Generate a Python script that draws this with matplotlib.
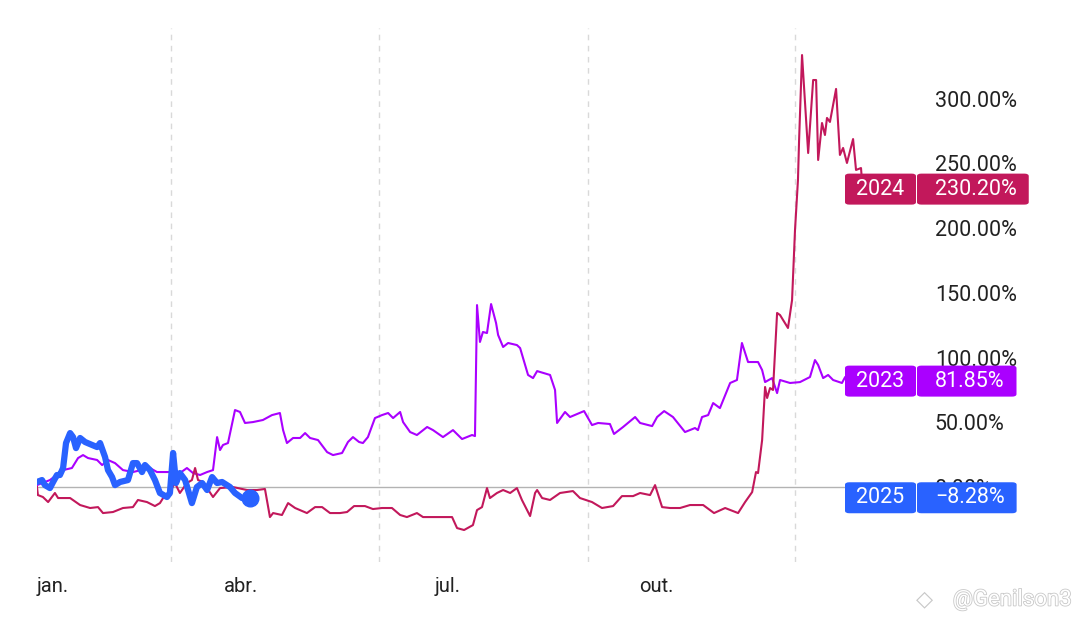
import matplotlib
matplotlib.use("Agg")
import matplotlib.pyplot as plt
import matplotlib.patheffects as pe
from matplotlib.patches import FancyBboxPatch

plt.rcParams['font.family'] = ['Roboto', 'DejaVu Sans']

# dia do ano (0 = 1 jan) e retorno acumulado em %
dias_2023 = [0, 5.7, 11.5, 15.4, 18.1, 20.3, 22.5, 26.5, 28.7, 31.3, 34.4, 37.9, 42.3, 49.8, 52.9,
             58.6, 63.0, 66.1, 68.8, 71.9, 75.0, 77.6, 79.4, 80.7, 82.0, 84.2, 87.3, 89.5, 91.7,
             95.2, 99.6, 103.6, 107.1, 108.5, 110.2, 112.9, 116.0, 118.2, 120.4, 123.9, 127.9,
             130.5, 134.5, 137.1, 139.3, 142.0, 143.7, 145.9, 149.0, 152.1, 154.8, 157.0, 160.1,
             161.4, 164.5, 167.5, 172.0, 174.6, 179.0, 183.4, 187.4, 191.8, 193.1, 194.0, 195.3,
             196.6, 198.4, 200.2, 202.4, 203.3, 205.5, 207.7, 211.6, 213.0, 216.5, 218.7, 220.5,
             226.2, 228.4, 229.3, 232.8, 235.0, 241.2, 244.7, 247.4, 252.6, 254.4, 258.4, 263.7,
             265.9, 271.2, 273.4, 276.5, 280.4, 285.7, 290.1, 291.4, 293.2, 295.9, 298.1, 301.1,
             305.6, 308.6, 310.8, 313.5, 317.9, 319.7, 321.0, 324.1, 326.3, 327.6, 332.0, 336.4,
             340.8, 343.0, 344.4, 346.6, 348.8, 351.0, 354.9, 356.3, 364]
ret_2023 = [1.5, 5.4, 13.1, 14.7, 22.4, 24.7, 22.4, 20.9, 17.0, 20.9, 18.5, 13.1, 11.6, 14.7, 11.6,
            11.6, 10.8, 14.7, 10.8, 9.3, 11.6, 13.1, 38.6, 28.6, 32.5, 34.0, 59.5, 58.0, 49.5,
            50.2, 51.8, 55.6, 57.2, 44.0, 34.0, 37.9, 37.9, 41.7, 37.9, 36.3, 27.0,
            24.7, 26.3, 34.8, 38.6, 34.8, 34.0, 38.6, 53.3, 55.6, 57.2, 53.3, 58.0,
            50.2, 42.5, 40.2, 46.4, 44.0, 38.6, 44.0, 37.1, 40.2, 39.4, 140.6, 112.1,
            119.8, 119.0, 141.4, 126.7, 117.5, 108.2, 111.3, 109.7, 107.4, 86.6, 84.2, 89.6,
            86.6, 75.0, 49.5, 58.0, 54.1, 58.7, 47.9, 49.5, 48.7, 41.0, 46.4, 54.1,
            49.5, 47.1, 54.1, 58.7, 54.1, 42.5, 45.6, 44.0, 54.1, 55.6, 64.9, 61.0,
            80.4, 82.7, 111.3, 96.6, 96.6, 90.4, 81.1, 84.2, 72.6, 82.7, 80.4, 81.1,
            85.0, 98.1, 94.3, 84.2, 86.6, 82.7, 80.4, 85.0, 81.85]

dias_2024 = [0, 0.4, 2.6, 4.9, 7.9, 9.3, 14.6, 19.0, 23.4, 26.9, 29.1, 33.5, 37.9, 42.3, 44.5,
             48.5, 52.0, 54.2, 56.4, 58.6, 60.8, 63.0, 66.1, 68.3, 69.7, 71.0, 73.2, 77.6, 80.7,
             86.4, 92.6, 97.0, 100.5, 102.7, 104.1, 108.0, 110.7, 113.8, 119.0, 122.6, 125.7,
             129.2, 133.6, 136.7, 139.8, 144.6, 148.1, 152.1, 156.5, 160.1, 163.1, 167.5, 170.2,
             174.6, 180.8, 183.0, 185.2, 188.3, 192.2, 194.0, 196.2, 198.4, 199.7, 202.8, 205.5,
             208.6, 211.6, 213.8, 217.4, 219.6, 220.5, 222.7, 226.2, 230.6, 236.3, 239.4, 244.7,
             249.1, 254.0, 257.9, 262.8, 265.9, 270.3, 272.5, 275.6, 279.1, 283.5, 287.9, 293.7,
             298.5, 303.4, 309.1, 312.2, 315.3, 317.0, 317.9, 319.7, 321.0, 321.9, 323.2, 324.5,
             326.3, 327.6, 331.1, 332.9, 334.2, 335.5, 336.0, 337.3, 340.0, 342.2, 343.5, 344.4,
             346.1, 347.4, 348.3, 349.6, 352.3, 354.0, 355.4, 357.1, 359.8, 361.1, 363.3, 364]
ret_2024 = [0, -6.2, -7.7, -11.6, -4.6, -8.5, -8.5, -13.9, -16.2, -15.5, -20.1, -19.3, -16.2, -15.5, -10.0,
            -11.6, -14.7, -12.4, -6.2, -3.9, 3.1, -4.6, 3.1, 5.4, 14.7, 5.4, 3.9, -7.7, -0.8,
            0, -2.3, -2.3, -1.5, -23.2, -20.1, -21.6, -12.4, -16.2, -20.1, -15.5, -15.5,
            -20.1, -20.1, -19.3, -14.7, -14.7, -17.0, -16.2, -16.2, -21.6, -23.2, -20.1, -23.2,
            -23.2, -23.2, -23.2, -31.7, -33.2, -29.4, -17.8, -15.5, -0.8, -8.5, -4.6, -2.3,
            -4.6, -0.8, -10.0, -22.4, -4.6, -2.3, -8.5, -10.0, -4.6, -3.1, -8.5, -11.6,
            -16.2, -14.7, -7.0, -7.0, -4.6, -6.2, 1.5, -15.5, -16.2, -16.2, -13.9, -13.9,
            -20.1, -16.2, -20.1, -11.6, -3.9, 11.6, 10.8, 36.3, 77.3, 68.8, 76.5, 75.0,
            134.5, 132.9, 122.9, 144.5, 198.6, 237.2, 268.2, 333.8, 258.1, 314.5, 314.5, 252.7,
            281.3, 272.0, 285.2, 282.1, 307.6, 256.6, 262.0, 250.4, 268.9, 245.0, 246.5, 230.2]

dias_2025 = [0, 2.2, 3.5, 5.7, 7.1, 8.8, 10.1, 11.5, 12.8, 14.6, 15.9, 17.2, 19.0, 21.2, 24.3,
             26.5, 27.8, 30.0, 31.3, 33.1, 34.4, 36.6, 40.1, 42.3, 44.1, 46.3, 47.6, 49.8, 52.0,
             54.2, 57.3, 58.6, 60.0, 61.3, 63.0, 65.3, 68.3, 70.5, 72.8, 75.0, 77.2, 79.4, 81.6,
             85.1, 87.3, 90.4, 93.9]
ret_2025 = [3.9, 5.4, 1.5, -0.8, 3.9, 9.3, 9.3, 14.7, 34.0, 41.7, 38.6, 30.1, 37.9, 34.8, 32.5,
            30.9, 34.0, 23.2, 13.1, 7.7, 1.5, 3.9, 5.4, 18.5, 18.5, 11.6, 17.0, 13.1, 5.4,
            -4.6, -7.7, -4.6, 26.3, 3.1, 10.8, 5.4, -12.4, 0, 3.1, -2.3, 7.7, 3.1, 3.9,
            0, -4.6, -8.5, -8.28]

meses = ["jan.", "abr.", "jul.", "out."]
dias_meses = [0, 90, 181, 273]
dias_grade = [59, 151, 243, 334]
yticks = [0, 50, 100, 150, 200, 250, 300]

cor_2023 = "#AA00FF"
cor_2024 = "#C2185B"
cor_2025 = "#2962FF"

fig = plt.figure(figsize=(10.8, 6.22), dpi=100)
ax = fig.add_axes([37 / 1080, 0.0965, (862.6 - 37) / 1080, 0.8585])
ax.set_xlim(0, 364)
ax.set_ylim(-57.9, 354.7)
for s in ax.spines.values():
    s.set_visible(False)

ax.vlines(dias_grade, -57.9, 354.7, colors="#d9d9d9", linestyles=(0, (4, 4)), lw=1, zorder=1)
ax.axhline(0, color="#b3b3b3", lw=1, zorder=1)

ax.plot(dias_2023, ret_2023, color=cor_2023, lw=1.5, zorder=3)
ax.plot(dias_2024, ret_2024, color=cor_2024, lw=1.5, zorder=4)
ax.plot(dias_2025, ret_2025, color=cor_2025, lw=4.5, solid_joinstyle="round",
        solid_capstyle="round", zorder=5)
ax.plot(dias_2025[-1:], ret_2025[-1:], "o", color=cor_2025, ms=12, zorder=6)

ax.set_xticks(dias_meses, meses)
ax.yaxis.tick_right()
ax.set_yticks(yticks, [f"{v:.2f}%" for v in yticks])
ax.tick_params(axis="x", length=0, pad=11, labelsize=14.5, labelcolor="#222222")
ax.tick_params(axis="y", length=0, pad=52, labelsize=15.5, labelcolor="#222222")
ax.get_xticklabels()[0].set_ha("left")

# caixas com o ultimo valor de cada ano
rotulos = [("2024", ret_2024[-1], cor_2024), ("2023", ret_2023[-1], cor_2023),
           ("2025", ret_2025[-1], cor_2025)]
fig.canvas.draw()
rend = fig.canvas.get_renderer()
W, H = 1080, 622
for ano, val, cor in rotulos:
    yc = ax.transData.transform((0, val))[1]
    txt = f"{val:.2f}%".replace("-", "\u2212")
    t = fig.text(935 / W, yc / H, txt, color="white", fontsize=15.5, ha="left", va="center",
                 zorder=12)
    x1 = t.get_window_extent(rend).x1 + 12
    fig.patches.append(FancyBboxPatch((845 / W, (yc - 15.5) / H), 71 / W, 31 / H,
                                      boxstyle="round,pad=0,rounding_size=0.004",
                                      transform=fig.transFigure, fc=cor, ec="none", zorder=10))
    fig.patches.append(FancyBboxPatch((917 / W, (yc - 15.5) / H), (x1 - 917) / W, 31 / H,
                                      boxstyle="round,pad=0,rounding_size=0.004",
                                      transform=fig.transFigure, fc=cor, ec="none", zorder=10))
    fig.text(880.5 / W, yc / H, ano, color="white", fontsize=15.5, ha="center", va="center",
             zorder=12)

# marca d'agua
fig.text(1072 / W, 22 / H, "@Genilson3", fontsize=16, color="white", ha="right", va="center",
         path_effects=[pe.withStroke(linewidth=1.2, foreground="#c8c8c8")])
fig.text(925 / W, 22 / H, "\u25C7", fontsize=16, color="#c8c8c8", ha="center", va="center")

fig.savefig("out.png", dpi=100)
